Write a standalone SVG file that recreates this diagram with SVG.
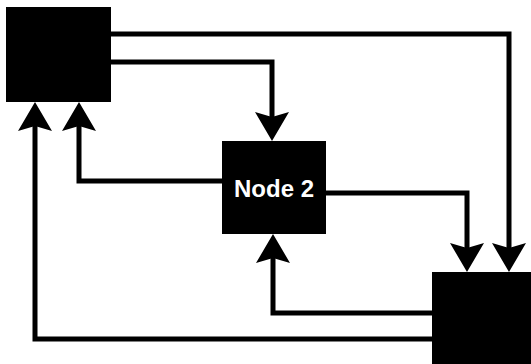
<svg xmlns="http://www.w3.org/2000/svg" width="531" height="364" viewBox="0 0 531 364">
<style>
.node{fill:#000}
.edge{fill:none;stroke:#000;stroke-width:5;stroke-linejoin:miter;stroke-linecap:butt;marker-end:url(#ah)}
.label{font-family:"Liberation Sans",Arial,sans-serif;font-size:24px;font-weight:bold;fill:#fff;text-anchor:middle}
</style>
<defs>
<marker id="ah" markerUnits="userSpaceOnUse" viewBox="-6 -18 32 36" refX="0" refY="0" markerWidth="32" markerHeight="36" orient="auto">
<path d="M24,0 L-5,-17 L0,0 L-5,17 Z" fill="#000"/>
</marker>
</defs>
<rect width="531" height="364" fill="#fff"/>
<g id="connectors">
<path class="edge" d="M111,34 H509 V248"/>
<path class="edge" d="M111,62 H272 V117"/>
<path class="edge" d="M222,181 H79 V126"/>
<path class="edge" d="M326,193 H467 V248"/>
<path class="edge" d="M432,313 H273 V258"/>
<path class="edge" d="M432,339 H35 V126"/>
</g>
<g id="node1"><rect class="node" x="6" y="7" width="105" height="95"/></g>
<g id="node2"><rect class="node" x="222" y="141" width="104" height="93"/><text class="label" x="274" y="197">Node 2</text></g>
<g id="node3"><rect class="node" x="432" y="272" width="100" height="93"/></g>
</svg>
